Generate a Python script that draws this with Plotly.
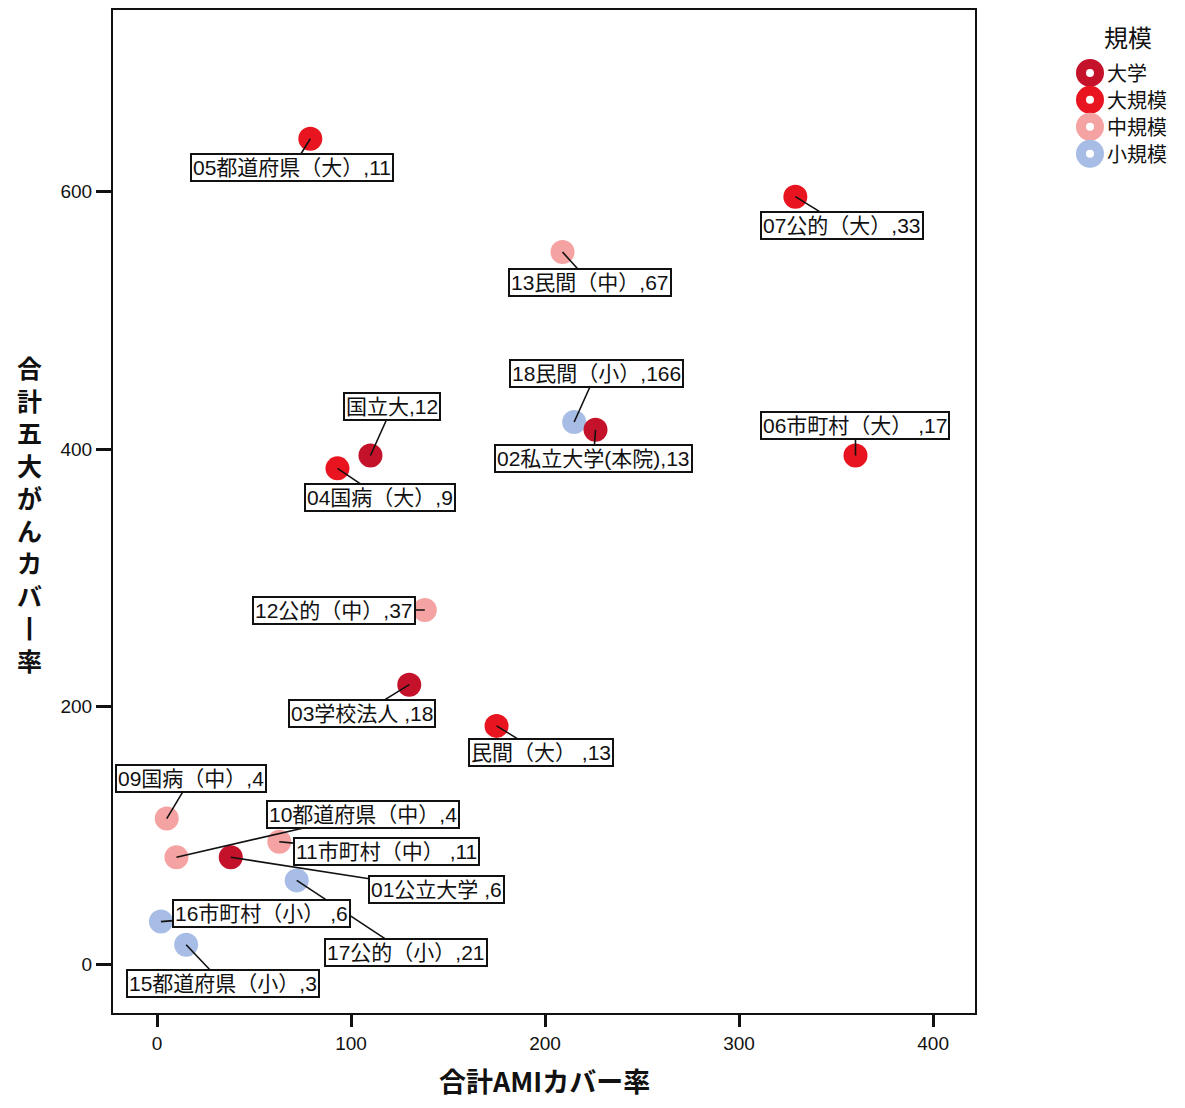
import plotly.graph_objects as go

# ---- data ----
names = ["05都道府県（大）,11", "07公的（大）,33", "13民間（中）,67", "18民間（小）,166",
         "02私立大学(本院),13", "06市町村（大） ,17", "国立大,12", "04国病（大）,9",
         "12公的（中）,37", "03学校法人 ,18", "民間（大） ,13", "09国病（中）,4",
         "10都道府県（中）,4", "11市町村（中） ,11", "01公立大学 ,6", "17公的（小）,21",
         "16市町村（小） ,6", "15都道府県（小）,3"]
ami = [79, 329, 209, 215, 226, 360, 110, 93, 138, 130, 175, 5, 10, 63, 38, 72, 2, 15]
cancer = [641, 596, 553, 421, 415, 395, 395, 385, 275, 217, 185, 113, 83, 95, 83, 65, 33, 15]
scale = ["大規模", "大規模", "中規模", "小規模", "大学", "大規模", "大学", "大規模",
         "中規模", "大学", "大規模", "中規模", "中規模", "中規模", "大学", "小規模",
         "小規模", "小規模"]
# label offsets (pixels) from point to label box
lab_dx = [-18, 47, 27, 22, -2, 0, 22, 43, -91, -47, 44, 24, 187, 107, 206, 109, 101, 37]
lab_dy = [29, 29, 30, -49, 29, -30, -49, 29, 0, 29, 27, -40, -43, 10, 32, 72, -8, 39]

categories = ["大学", "大規模", "中規模", "小規模"]
colors = {"大学": "#C4122B", "大規模": "#E8141F", "中規模": "#F5A2A2", "小規模": "#A7BDE6"}
x_ticks = [0, 100, 200, 300, 400]
y_ticks = [0, 200, 400, 600]
y_title_chars = list("合計五大がんカバ") + ["丨", "率"]

FONT = "Liberation Sans Narrow, Liberation Sans, Noto Sans CJK JP"
CJK = "Noto Sans CJK JP"

fig = go.Figure()

# data points (draw small first so university points sit on top)
for cat in ["小規模", "中規模", "大規模", "大学"]:
    xs = [a for a, s in zip(ami, scale) if s == cat]
    ys = [c for c, s in zip(cancer, scale) if s == cat]
    fig.add_trace(go.Scatter(x=xs, y=ys, mode="markers", showlegend=False, name=cat,
                             marker=dict(size=24, color=colors[cat], line=dict(width=0)),
                             hoverinfo="skip"))

# labels
for n, a, c, dx, dy in zip(names, ami, cancer, lab_dx, lab_dy):
    fig.add_annotation(x=a, y=c, text=n, showarrow=True, ax=dx, ay=dy,
                       arrowhead=0, arrowwidth=1.6, arrowcolor="#111",
                       standoff=0, startstandoff=0,
                       font=dict(family=FONT, size=21, color="#111"),
                       bgcolor="white", bordercolor="#111", borderwidth=2, borderpad=1)

# manual legend (ring markers)
fig.add_annotation(xref="paper", yref="paper", x=1.1775, y=0.9731, text="規模",
                   showarrow=False, xanchor="center", yanchor="middle",
                   font=dict(family=CJK, size=24, color="#111"))
leg_y = [0.9373, 0.9104, 0.8836, 0.8567]
for cat, ly in zip(categories, leg_y):
    fig.add_shape(type="circle", xref="paper", yref="paper",
                  xsizemode="pixel", ysizemode="pixel", xanchor=1.1334, yanchor=ly,
                  x0=-9, x1=9, y0=-9, y1=9,
                  fillcolor="white", line=dict(color=colors[cat], width=10))
for cat, ly in zip(categories, leg_y):
    fig.add_annotation(xref="paper", yref="paper", x=1.1508, y=ly, text=cat,
                       showarrow=False, xanchor="left", yanchor="middle",
                       font=dict(family=CJK, size=20, color="#111"))

# axis titles
fig.add_annotation(xref="paper", yref="paper", x=0.501, y=-0.0677, text="<b>合計AMIカバー率</b>",
                   showarrow=False, xanchor="center", yanchor="middle",
                   font=dict(family=CJK, size=27, color="#111"))
fig.add_annotation(xref="paper", yref="paper", x=-0.0963, y=0.4985,
                   text="<b>" + "<br>".join(y_title_chars) + "</b>",
                   showarrow=False, xanchor="center", yanchor="middle",
                   font=dict(family=CJK, size=25, color="#111"))

fig.update_layout(
    width=1169, height=1092,
    margin=dict(l=105, r=202, t=0, b=87),
    paper_bgcolor="white", plot_bgcolor="white",
    font=dict(family=FONT, color="#111"),
    showlegend=False,
    xaxis=dict(range=[-22.7, 421.6], tickvals=x_ticks,
               showgrid=False, zeroline=False, showline=True, linecolor="#111",
               linewidth=2, mirror=True, ticks="outside", ticklen=12, tickwidth=2.5,
               tickcolor="#111", tickfont=dict(size=19, family=FONT)),
    yaxis=dict(range=[-38, 741], tickvals=y_ticks,
               showgrid=False, zeroline=False, showline=True, linecolor="#111",
               linewidth=2, mirror=True, ticks="outside", ticklen=15, tickwidth=2.5,
               tickcolor="#111", tickfont=dict(size=19, family=FONT)),
)

fig.write_html("out.html")
